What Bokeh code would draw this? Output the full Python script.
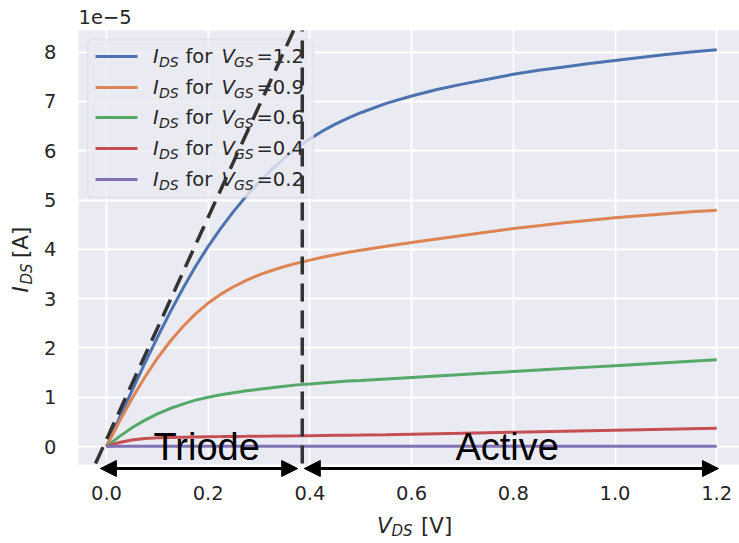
from bokeh.plotting import figure
from bokeh.models import (Range1d, FixedTicker, BoxAnnotation, Label, Arrow,
                          NormalHead)
from bokeh.embed import file_html
from bokeh.resources import INLINE

# ---------------- data (currents in units of 1e-5 A) ----------------
v_ds = [0.0, 0.025, 0.05, 0.075, 0.1, 0.125, 0.15, 0.175, 0.2, 0.225, 0.25,
        0.275, 0.3, 0.325, 0.35, 0.375, 0.4, 0.425, 0.45, 0.475, 0.5,
        0.55, 0.6, 0.65, 0.7, 0.75, 0.8, 0.85, 0.9, 0.95, 1.0, 1.05, 1.1, 1.15, 1.2]
i_vgs_12 = [0.0, 0.57, 1.13, 1.68, 2.21, 2.72, 3.20, 3.65, 4.06, 4.43, 4.77,
            5.08, 5.36, 5.62, 5.85, 6.06, 6.24, 6.40, 6.54, 6.66, 6.77,
            6.96, 7.11, 7.24, 7.35, 7.45, 7.55, 7.63, 7.70, 7.77, 7.83, 7.89, 7.95, 8.00, 8.05]
i_vgs_09 = [0.0, 0.50, 0.97, 1.40, 1.79, 2.13, 2.43, 2.69, 2.91, 3.09, 3.24,
            3.37, 3.48, 3.57, 3.65, 3.72, 3.78, 3.84, 3.89, 3.94, 3.98,
            4.06, 4.14, 4.21, 4.28, 4.35, 4.42, 4.48, 4.54, 4.59, 4.64, 4.68, 4.72, 4.76, 4.79]
i_vgs_06 = [0.0, 0.20, 0.38, 0.53, 0.66, 0.77, 0.86, 0.94, 1.00, 1.05, 1.09,
            1.13, 1.16, 1.19, 1.22, 1.25, 1.27, 1.29, 1.31, 1.33, 1.34,
            1.37, 1.40, 1.43, 1.46, 1.49, 1.52, 1.55, 1.58, 1.61, 1.64, 1.67, 1.70, 1.73, 1.76]
i_vgs_04 = [0.0, 0.08, 0.13, 0.16, 0.175, 0.185, 0.19, 0.195, 0.20, 0.202, 0.205,
            0.207, 0.21, 0.212, 0.215, 0.217, 0.22, 0.223, 0.226, 0.229, 0.232,
            0.24, 0.25, 0.26, 0.27, 0.28, 0.29, 0.30, 0.31, 0.32, 0.33, 0.34, 0.35, 0.36, 0.37]
i_vgs_02 = [0.0] + [0.003] * 34
vgs_labels = ["1.2", "0.9", "0.6", "0.4", "0.2"]
colors = ["#4C72B0", "#DD8452", "#55A868", "#C44E52", "#8172B3"]
series = [i_vgs_12, i_vgs_09, i_vgs_06, i_vgs_04, i_vgs_02]

# saturation boundary (dashed)
bound_x = [-0.0216, 0.368]
bound_y = [-0.345, 8.44]
vsat_x = [0.385, 0.385]
vsat_y = [-0.345, 8.44]

# regions
region_names = ["Triode", "Active"]
region_x0 = [-0.012, 0.389]
region_x1 = [0.376, 1.2035]
region_text_x = [0.197, 0.788]

x_ticks = [0.0, 0.2, 0.4, 0.6, 0.8, 1.0, 1.2]
x_tick_labels = ["0.0", "0.2", "0.4", "0.6", "0.8", "1.0", "1.2"]
y_ticks = [0, 1, 2, 3, 4, 5, 6, 7, 8]
y_tick_labels = ["0", "1", "2", "3", "4", "5", "6", "7", "8"]

# ---------------- layout helpers ----------------
W, H = 739, 543
AL, AT, AB = 78, 30, 478                    # axes box (page px)
X0, SX = 106.0, 508.5                       # page x of V=0, px per volt
Y0, SY = 446.0, 49.3                        # page y of I=0, px per 1e-5 A
def dx(X):
    return (X - X0) / SX
def dy(Y):
    return (Y0 - Y) / SY

# frame covers the whole canvas; axes are pinned with fixed_location
p = figure(width=W, height=H, output_backend="svg", toolbar_location=None,
           x_range=Range1d(dx(0), dx(W)), y_range=Range1d(dy(H), dy(0)),
           min_border=0, min_border_left=0, min_border_right=0,
           min_border_top=0, min_border_bottom=0)
p.background_fill_color = "white"
p.border_fill_color = "white"
p.outline_line_color = None

TXT = "#262626"
FONT = "DejaVu Sans"

# axes background
p.add_layout(BoxAnnotation(left=dx(AL), bottom=dy(464), top=dy(AT),
                           fill_color="#EAEAF2", fill_alpha=1.0,
                           line_color=None, level="image"))

for ax in (p.xaxis[0], p.yaxis[0]):
    ax.axis_line_color = None
    ax.major_tick_line_color = None
    ax.minor_tick_line_color = None
    ax.major_tick_out = 0
    ax.major_tick_in = 0
    ax.major_label_text_font = FONT
    ax.major_label_text_font_size = "19.5px"
    ax.major_label_text_color = TXT
p.xaxis.ticker = FixedTicker(ticks=x_ticks)
p.xaxis.major_label_overrides = dict(zip(x_ticks, x_tick_labels))
p.yaxis.ticker = FixedTicker(ticks=y_ticks)
p.yaxis.major_label_overrides = dict(zip(y_ticks, y_tick_labels))
p.xaxis.major_label_standoff = 7
p.yaxis.major_label_standoff = 22
p.xaxis.fixed_location = dy(AB)
p.yaxis.fixed_location = dx(AL)

p.xgrid.ticker = FixedTicker(ticks=x_ticks)
p.ygrid.ticker = FixedTicker(ticks=y_ticks)
for g in (p.xgrid[0], p.ygrid[0]):
    g.grid_line_color = "white"
    g.grid_line_width = 1.8

# curves
for ys, c in zip(series, colors):
    p.line(v_ds, ys, line_color=c, line_width=3)


def txt(x, y, t, fs, st="normal", font=FONT, color=TXT, align="left", angle=0):
    p.add_layout(Label(x=x, y=y, text=t, text_font=font, text_font_size=fs,
                       text_font_style=st, text_color=color, text_align=align,
                       text_baseline="middle", angle=angle, angle_units="deg"))


# legend (manual, for sub-scripted labels)
p.add_layout(BoxAnnotation(left=dx(87), right=dx(313), top=dy(39), bottom=dy(197),
                           fill_color="#EAEAF2", fill_alpha=0.8,
                           line_color="#CCCCCC", line_width=1.5, border_radius=5))
row_y = [56, 87, 117, 148, 179]
for ry, c, lab in zip(row_y, colors, vgs_labels):
    p.segment(x0=[dx(95)], y0=[dy(ry)], x1=[dx(137)], y1=[dy(ry)],
              line_color=c, line_width=3, level="overlay")
    parts = [("I", 152.5, -0.5, "19.5px", "italic"),
             ("DS", 158.5, 5.0, "14px", "italic"),
             ("for", 185.0, -0.5, "19.5px", "normal"),
             ("V", 221.0, -0.5, "19.5px", "italic"),
             ("GS", 233.5, 5.0, "14px", "italic"),
             ("=" + lab, 256.0, -0.5, "19.5px", "normal")]
    for t, px, off, fs, st in parts:
        txt(dx(px), dy(ry + off), t, fs, st)

# dashed boundaries (drawn over legend as in the original)
p.line(bound_x, bound_y, line_color="#333333", line_width=3.5, line_dash="18 9",
       level="overlay")
p.line(vsat_x, vsat_y, line_color="#333333", line_width=3.5, line_dash="18 9",
       level="overlay")

# region arrows + names
for name, x0, x1, tx in zip(region_names, region_x0, region_x1, region_text_x):
    p.add_layout(Arrow(start=NormalHead(size=16, fill_color="black", line_color="black"),
                       end=NormalHead(size=16, fill_color="black", line_color="black"),
                       x_start=x0, y_start=dy(468), x_end=x1, y_end=dy(468),
                       line_color="black", line_width=3))
    txt(tx, dy(446), name, "38px", font="Liberation Sans", color="black",
        align="center")

# offset text
txt(dx(78), dy(16), "1e\u22125", "19.5px")

# x axis label  V_DS [V]
for t, px, cy, fs, st in [("V", 376.5, 524.5, "21.3px", "italic"),
                          ("DS", 391.0, 530.0, "15px", "italic"),
                          ("[V]", 420.5, 524.5, "21.3px", "normal")]:
    txt(dx(px), dy(cy), t, fs, st)

# y axis label  I_DS [A] (rotated)
for t, py, cx, fs, st in [("I", 292.0, 19.5, "21.3px", "italic"),
                          ("DS", 284.0, 26.5, "15px", "italic"),
                          ("[A]", 257.5, 19.5, "21.3px", "normal")]:
    txt(dx(cx), dy(py), t, fs, st, angle=90)

open("out.html", "w").write(file_html(p, INLINE))
